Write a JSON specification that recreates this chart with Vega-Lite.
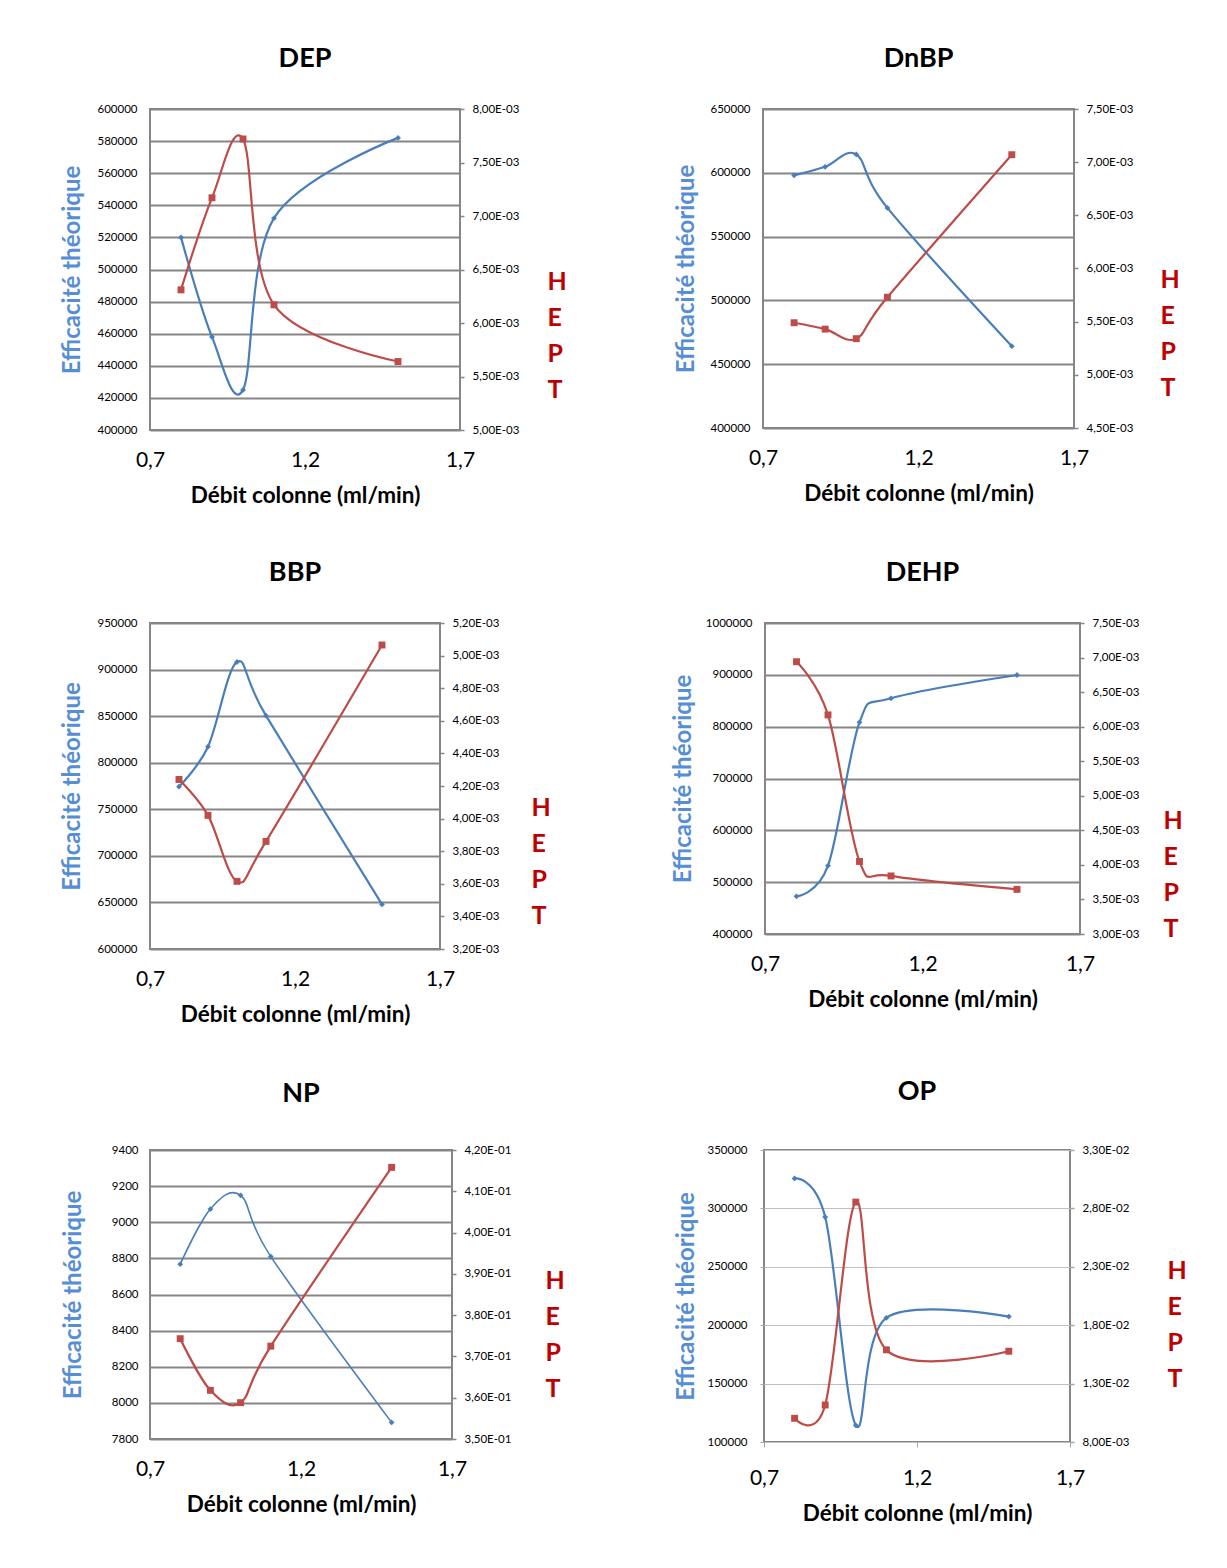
{
  "$schema": "https://vega.github.io/schema/vega-lite/v6.json",
  "padding": {"left": 59, "top": 44, "right": 5, "bottom": 5},
  "background": "white",
  "datasets": {
    "d": [
      {"c": "DEP", "x": 0.8, "eff": 520000, "hept": 0.00631},
      {"c": "DEP", "x": 0.9, "eff": 458000, "hept": 0.00717},
      {"c": "DEP", "x": 1.0, "eff": 425000, "hept": 0.00772},
      {"c": "DEP", "x": 1.1, "eff": 532000, "hept": 0.00617},
      {"c": "DEP", "x": 1.5, "eff": 582000, "hept": 0.00564},
      {"c": "DnBP", "x": 0.8, "eff": 598000, "hept": 0.00549},
      {"c": "DnBP", "x": 0.9, "eff": 604700, "hept": 0.00543},
      {"c": "DnBP", "x": 1.0, "eff": 614400, "hept": 0.00534},
      {"c": "DnBP", "x": 1.1, "eff": 572500, "hept": 0.00573},
      {"c": "DnBP", "x": 1.5, "eff": 464100, "hept": 0.00707},
      {"c": "BBP", "x": 0.8, "eff": 774300, "hept": 0.00424},
      {"c": "BBP", "x": 0.9, "eff": 817200, "hept": 0.00402},
      {"c": "BBP", "x": 1.0, "eff": 908100, "hept": 0.003615},
      {"c": "BBP", "x": 1.1, "eff": 850500, "hept": 0.00386},
      {"c": "BBP", "x": 1.5, "eff": 647900, "hept": 0.005065},
      {"c": "DEHP", "x": 0.8, "eff": 472700, "hept": 0.00694},
      {"c": "DEHP", "x": 0.9, "eff": 531800, "hept": 0.00617},
      {"c": "DEHP", "x": 1.0, "eff": 808300, "hept": 0.00405},
      {"c": "DEHP", "x": 1.1, "eff": 854700, "hept": 0.00384},
      {"c": "DEHP", "x": 1.5, "eff": 899700, "hept": 0.003646},
      {"c": "NP", "x": 0.8, "eff": 8768, "hept": 0.3743},
      {"c": "NP", "x": 0.9, "eff": 9073, "hept": 0.3618},
      {"c": "NP", "x": 1.0, "eff": 9149, "hept": 0.3588},
      {"c": "NP", "x": 1.1, "eff": 8810, "hept": 0.3725},
      {"c": "NP", "x": 1.5, "eff": 7892, "hept": 0.4158},
      {"c": "OP", "x": 0.8, "eff": 325700, "hept": 0.01003},
      {"c": "OP", "x": 0.9, "eff": 292600, "hept": 0.01117},
      {"c": "OP", "x": 1.0, "eff": 114300, "hept": 0.02854},
      {"c": "OP", "x": 1.1, "eff": 206300, "hept": 0.01589},
      {"c": "OP", "x": 1.5, "eff": 207400, "hept": 0.01577}
    ]
  },
  "data": {"name": "d"},
  "spacing": 50,
  "vconcat": [
    {
      "spacing": 105,
      "hconcat": [
        {
          "title": "DEP",
          "width": 310, "height": 321,
          "transform": [{"filter": "datum.c === 'DEP'"}],
          "encoding": {"x": {"field": "x", "type": "quantitative", "scale": {"domain": [0.7, 1.7], "nice": false}, "axis": {"values": [0.7, 1.2, 1.7], "labelExpr": "replace(format(datum.value, '.1f'), '.', ',')", "title": "Débit colonne (ml/min)"}}},
          "layer": [
            {"mark": {"type": "line", "color": "#4A7EBB", "strokeWidth": 2.2, "interpolate": "cardinal", "point": {"shape": "diamond", "size": 34, "filled": true, "color": "#4A7EBB"}},
             "encoding": {"y": {"field": "eff", "type": "quantitative", "scale": {"domain": [400000, 600000], "nice": false, "zero": false}, "axis": {"orient": "left", "values": [400000, 420000, 440000, 460000, 480000, 500000, 520000, 540000, 560000, 580000, 600000], "format": "d", "title": "Efficacité théorique", "titlePadding": 12}}}},
            {"mark": {"type": "line", "color": "#BE4B48", "strokeWidth": 2.2, "interpolate": "cardinal", "point": {"shape": "square", "size": 48, "filled": true, "color": "#BE4B48"}},
             "encoding": {"y": {"field": "hept", "type": "quantitative", "scale": {"domain": [0.005, 0.008], "nice": false, "zero": false}, "axis": {"orient": "right", "values": [0.005, 0.0055, 0.006, 0.0065, 0.007, 0.0075, 0.008], "labelExpr": "replace(replace(upper(format(datum.value, '.2e')), 'E-', 'E-0'), '.', ',')", "title": ["H", "E", "P", "T"], "titleX": 87, "titleY": 172}}}}
          ],
          "resolve": {"scale": {"y": "independent"}}
        },
        {
          "title": "DnBP",
          "width": 311, "height": 319,
          "transform": [{"filter": "datum.c === 'DnBP'"}],
          "encoding": {"x": {"field": "x", "type": "quantitative", "scale": {"domain": [0.7, 1.7], "nice": false}, "axis": {"values": [0.7, 1.2, 1.7], "labelExpr": "replace(format(datum.value, '.1f'), '.', ',')", "title": "Débit colonne (ml/min)"}}},
          "layer": [
            {"mark": {"type": "line", "color": "#4A7EBB", "strokeWidth": 2.2, "interpolate": "cardinal", "point": {"shape": "diamond", "size": 34, "filled": true, "color": "#4A7EBB"}},
             "encoding": {"y": {"field": "eff", "type": "quantitative", "scale": {"domain": [400000, 650000], "nice": false, "zero": false}, "axis": {"orient": "left", "values": [400000, 450000, 500000, 550000, 600000, 650000], "format": "d", "title": "Efficacité théorique", "titlePadding": 11}}}},
            {"mark": {"type": "line", "color": "#BE4B48", "strokeWidth": 2.2, "interpolate": "cardinal", "point": {"shape": "square", "size": 48, "filled": true, "color": "#BE4B48"}},
             "encoding": {"y": {"field": "hept", "type": "quantitative", "scale": {"domain": [0.0045, 0.0075], "nice": false, "zero": false}, "axis": {"orient": "right", "values": [0.0045, 0.005, 0.0055, 0.006, 0.0065, 0.007, 0.0075], "labelExpr": "replace(replace(upper(format(datum.value, '.2e')), 'E-', 'E-0'), '.', ',')", "title": ["H", "E", "P", "T"], "titleX": 86, "titleY": 170}}}}
          ],
          "resolve": {"scale": {"y": "independent"}}
        }
      ]
    },
    {
      "spacing": 118,
      "hconcat": [
        {
          "title": "BBP",
          "width": 290, "height": 326,
          "transform": [{"filter": "datum.c === 'BBP'"}],
          "encoding": {"x": {"field": "x", "type": "quantitative", "scale": {"domain": [0.7, 1.7], "nice": false}, "axis": {"values": [0.7, 1.2, 1.7], "labelExpr": "replace(format(datum.value, '.1f'), '.', ',')", "title": "Débit colonne (ml/min)"}}},
          "layer": [
            {"mark": {"type": "line", "color": "#4A7EBB", "strokeWidth": 2.2, "interpolate": "cardinal", "point": {"shape": "diamond", "size": 34, "filled": true, "color": "#4A7EBB"}},
             "encoding": {"y": {"field": "eff", "type": "quantitative", "scale": {"domain": [600000, 950000], "nice": false, "zero": false}, "axis": {"orient": "left", "values": [600000, 650000, 700000, 750000, 800000, 850000, 900000, 950000], "format": "d", "title": "Efficacité théorique", "titlePadding": 12}}}},
            {"mark": {"type": "line", "color": "#BE4B48", "strokeWidth": 2.2, "interpolate": "cardinal", "point": {"shape": "square", "size": 48, "filled": true, "color": "#BE4B48"}},
             "encoding": {"y": {"field": "hept", "type": "quantitative", "scale": {"domain": [0.0032, 0.0052], "nice": false, "zero": false}, "axis": {"orient": "right", "values": [0.0032, 0.0034, 0.0036, 0.0038, 0.004, 0.0042, 0.0044, 0.0046, 0.0048, 0.005, 0.0052], "labelExpr": "replace(replace(upper(format(datum.value, '.2e')), 'E-', 'E-0'), '.', ',')", "title": ["H", "E", "P", "T"], "titleX": 91, "titleY": 184}}}}
          ],
          "resolve": {"scale": {"y": "independent"}}
        },
        {
          "title": "DEHP",
          "width": 315, "height": 311,
          "transform": [{"filter": "datum.c === 'DEHP'"}],
          "encoding": {"x": {"field": "x", "type": "quantitative", "scale": {"domain": [0.7, 1.7], "nice": false}, "axis": {"values": [0.7, 1.2, 1.7], "labelExpr": "replace(format(datum.value, '.1f'), '.', ',')", "title": "Débit colonne (ml/min)"}}},
          "layer": [
            {"mark": {"type": "line", "color": "#4A7EBB", "strokeWidth": 2.2, "interpolate": "cardinal", "point": {"shape": "diamond", "size": 34, "filled": true, "color": "#4A7EBB"}},
             "encoding": {"y": {"field": "eff", "type": "quantitative", "scale": {"domain": [400000, 1000000], "nice": false, "zero": false}, "axis": {"orient": "left", "values": [400000, 500000, 600000, 700000, 800000, 900000, 1000000], "format": "d", "title": "Efficacité théorique", "titlePadding": 10}}}},
            {"mark": {"type": "line", "color": "#BE4B48", "strokeWidth": 2.2, "interpolate": "cardinal", "point": {"shape": "square", "size": 48, "filled": true, "color": "#BE4B48"}},
             "encoding": {"y": {"field": "hept", "type": "quantitative", "scale": {"domain": [0.003, 0.0075], "nice": false, "zero": false}, "axis": {"orient": "right", "values": [0.003, 0.0035, 0.004, 0.0045, 0.005, 0.0055, 0.006, 0.0065, 0.007, 0.0075], "labelExpr": "replace(replace(upper(format(datum.value, '.2e')), 'E-', 'E-0'), '.', ',')", "title": ["H", "E", "P", "T"], "titleX": 83, "titleY": 197}}}}
          ],
          "resolve": {"scale": {"y": "independent"}}
        }
      ]
    },
    {
      "spacing": 107,
      "hconcat": [
        {
          "title": {"text": "NP", "offset": 36},
          "width": 302, "height": 289,
          "transform": [{"filter": "datum.c === 'NP'"}],
          "encoding": {"x": {"field": "x", "type": "quantitative", "scale": {"domain": [0.7, 1.7], "nice": false}, "axis": {"values": [0.7, 1.2, 1.7], "labelExpr": "replace(format(datum.value, '.1f'), '.', ',')", "title": "Débit colonne (ml/min)"}}},
          "layer": [
            {"mark": {"type": "line", "color": "#4A7EBB", "strokeWidth": 1.6, "interpolate": "cardinal", "point": {"shape": "diamond", "size": 34, "filled": true, "color": "#4A7EBB"}},
             "encoding": {"y": {"field": "eff", "type": "quantitative", "scale": {"domain": [7800, 9400], "nice": false, "zero": false}, "axis": {"orient": "left", "values": [7800, 8000, 8200, 8400, 8600, 8800, 9000, 9200, 9400], "format": "d", "title": "Efficacité théorique", "titlePadding": 26, "labelPadding": 12}}}},
            {"mark": {"type": "line", "color": "#BE4B48", "strokeWidth": 2.2, "interpolate": "cardinal", "point": {"shape": "square", "size": 48, "filled": true, "color": "#BE4B48"}},
             "encoding": {"y": {"field": "hept", "type": "quantitative", "scale": {"domain": [0.35, 0.42], "nice": false, "zero": false}, "axis": {"orient": "right", "values": [0.35, 0.36, 0.37, 0.38, 0.39, 0.40, 0.41, 0.42], "labelExpr": "replace(replace(upper(format(datum.value, '.2e')), 'E-', 'E-0'), '.', ',')", "title": ["H", "E", "P", "T"], "titleX": 93, "titleY": 130}}}}
          ],
          "resolve": {"scale": {"y": "independent"}}
        },
        {
          "title": {"text": "OP", "offset": 38},
          "width": 306, "height": 292,
          "transform": [{"filter": "datum.c === 'OP'"}],
          "encoding": {"x": {"field": "x", "type": "quantitative", "scale": {"domain": [0.7, 1.7], "nice": false}, "axis": {"values": [0.7, 1.2, 1.7], "labelExpr": "replace(format(datum.value, '.1f'), '.', ',')", "title": "Débit colonne (ml/min)", "ticks": true, "tickSize": 5, "tickColor": "#A6A6A6", "labelPadding": 20}}},
          "layer": [
            {"mark": {"type": "line", "color": "#4A7EBB", "strokeWidth": 2.2, "interpolate": "cardinal", "point": {"shape": "diamond", "size": 34, "filled": true, "color": "#4A7EBB"}},
             "encoding": {"y": {"field": "eff", "type": "quantitative", "scale": {"domain": [100000, 350000], "nice": false, "zero": false}, "axis": {"orient": "left", "values": [100000, 150000, 200000, 250000, 300000, 350000], "format": "d", "title": "Efficacité théorique", "titlePadding": 8, "gridColor": "#BFBFBF", "gridWidth": 1.2, "ticks": true, "tickSize": 4, "tickColor": "#A6A6A6"}}}},
            {"mark": {"type": "line", "color": "#BE4B48", "strokeWidth": 2.2, "interpolate": "cardinal", "point": {"shape": "square", "size": 48, "filled": true, "color": "#BE4B48"}},
             "encoding": {"y": {"field": "hept", "type": "quantitative", "scale": {"domain": [0.008, 0.033], "nice": false, "zero": false}, "axis": {"orient": "right", "values": [0.008, 0.013, 0.018, 0.023, 0.028, 0.033], "labelExpr": "replace(replace(upper(format(datum.value, '.2e')), 'E-', 'E-0'), '.', ',')", "title": ["H", "E", "P", "T"], "titleX": 97, "titleY": 120, "tickColor": "#A6A6A6"}}}}
          ],
          "resolve": {"scale": {"y": "independent"}}
        }
      ]
    }
  ],
  "config": {
    "font": "Lato",
    "view": {"stroke": "#868686", "strokeWidth": 2},
    "title": {"fontSize": 27, "fontWeight": "bold", "color": "#000000", "font": "Lato", "offset": 30},
    "axisLeft": {"labelFont": "Lato", "labelFontSize": 11.5, "labelColor": "#000000", "ticks": false, "labelPadding": 13, "domain": false, "grid": true, "gridColor": "#868686", "gridWidth": 2, "titleFont": "Lato", "titleFontSize": 24, "titleFontWeight": "bold", "titleColor": "#558ED5"},
    "axisRight": {"labelFont": "Lato", "labelFontSize": 11.5, "labelColor": "#000000", "ticks": true, "tickSize": 4, "tickColor": "#868686", "tickWidth": 1.5, "labelPadding": 8, "domain": false, "grid": false, "titleFont": "Lato", "titleFontSize": 25, "titleFontWeight": "bold", "titleColor": "#C00000", "titleAngle": 0, "titleAlign": "left", "titleBaseline": "middle", "titleLineHeight": 36},
    "axisBottom": {"labelFont": "Lato", "labelFontSize": 21, "labelColor": "#000000", "ticks": false, "domain": false, "grid": false, "labelPadding": 19, "labelFlush": false, "labelOverlap": false, "titleFont": "Lato", "titleFontSize": 22.5, "titleFontWeight": "bold", "titleColor": "#000000", "titlePadding": 14}
  }
}
